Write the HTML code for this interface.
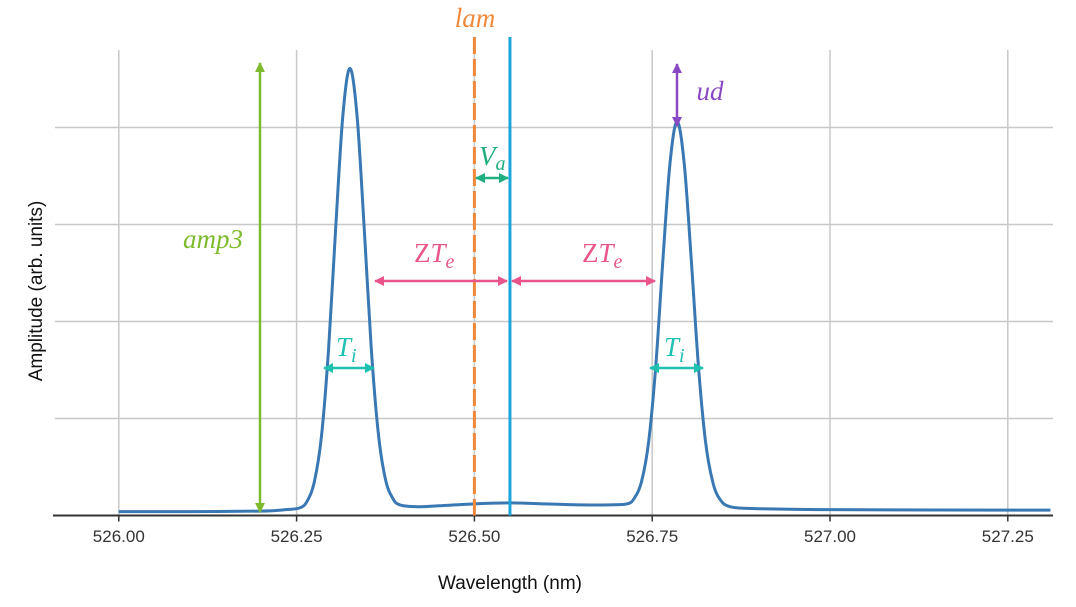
<!DOCTYPE html>
<html><head><meta charset="utf-8"><style>
html,body{margin:0;padding:0;background:#fff;}
svg{display:block;}
.tick{font-family:"Liberation Sans",sans-serif;font-size:17px;fill:#333;}
.ax{font-family:"Liberation Sans",sans-serif;font-size:19px;fill:#111;}
.m{font-family:"Liberation Serif",serif;font-style:italic;font-size:27px;}
</style></head><body>
<svg id="chart" width="1076" height="607" viewBox="0 0 1076 607" xmlns="http://www.w3.org/2000/svg">
<defs>
<marker id="ag" viewBox="0 0 10 10" refX="9" refY="5" markerWidth="4" markerHeight="4" orient="auto-start-reverse"><path d="M0,0L10,5L0,10z" fill="#7dbb2c"/></marker>
<marker id="ap" viewBox="0 0 10 10" refX="9" refY="5" markerWidth="4" markerHeight="4" orient="auto-start-reverse"><path d="M0,0L10,5L0,10z" fill="#8a49c4"/></marker>
<marker id="av" viewBox="0 0 10 10" refX="9" refY="5" markerWidth="4" markerHeight="4" orient="auto-start-reverse"><path d="M0,0L10,5L0,10z" fill="#1fae7f"/></marker>
<marker id="az" viewBox="0 0 10 10" refX="9" refY="5" markerWidth="4" markerHeight="4" orient="auto-start-reverse"><path d="M0,0L10,5L0,10z" fill="#e9548b"/></marker>
<marker id="at" viewBox="0 0 10 10" refX="9" refY="5" markerWidth="4" markerHeight="4" orient="auto-start-reverse"><path d="M0,0L10,5L0,10z" fill="#1ec0b0"/></marker>
</defs>
<g id="grid"></g>
<g id="axes"></g>
<path id="curve" fill="none" stroke="#3a78b3" stroke-width="3" stroke-linejoin="round"/>
<g id="ann"></g>
<text class="ax" x="510" y="589" text-anchor="middle">Wavelength (nm)</text>
<text class="ax" transform="translate(42,291) rotate(-90)" text-anchor="middle">Amplitude (arb. units)</text>
</svg>
<script>
const wavelengths=[526.00,526.10,526.20,526.235,526.255,526.265,526.275,526.285,526.295,526.305,526.315,526.325,526.335,526.345,526.355,526.365,526.375,526.385,526.395,526.42,526.45,526.50,526.55,526.60,526.65,526.69,526.715,526.725,526.735,526.745,526.755,526.765,526.775,526.785,526.795,526.805,526.815,526.825,526.835,526.845,526.86,526.90,527.00,527.31];
const amplitudes=[0.04,0.04,0.045,0.06,0.08,0.15,0.35,0.82,1.72,2.97,4.12,4.61,4.12,2.97,1.72,0.84,0.37,0.18,0.11,0.09,0.10,0.12,0.13,0.12,0.11,0.11,0.12,0.18,0.35,0.76,1.54,2.63,3.63,4.06,3.63,2.63,1.54,0.76,0.35,0.17,0.09,0.07,0.06,0.055];
const xTicks=[526.00,526.25,526.50,526.75,527.00,527.25];
const xTickLabels=["526.00","526.25","526.50","526.75","527.00","527.25"];
const yGrid=[1,2,3,4];
const lamValue=526.50, centerValue=526.55;
const NS="http://www.w3.org/2000/svg";
const X0=118.8,PX=711.2,Y0=515.5,PY=97;
function sx(v){return X0+(v-526)*PX;}
function sy(v){return Y0-v*PY;}
function mk(tag,attrs,parent){const e=document.createElementNS(NS,tag);for(const k in attrs)e.setAttribute(k,attrs[k]);parent.appendChild(e);return e;}
const grid=document.getElementById('grid'),axes=document.getElementById('axes'),ann=document.getElementById('ann');
xTicks.forEach((t,i)=>{
 const g=mk('line',{x1:sx(t),x2:sx(t),y1:50,y2:Y0,stroke:'#c8c8c8','stroke-width':1.5},grid);
 
 
 const tk=mk('line',{x1:sx(t),x2:sx(t),y1:Y0,y2:Y0+6,stroke:'#333','stroke-width':1.5},axes);
 
 
 const lb=mk('text',{x:sx(t),y:542,'text-anchor':'middle',class:'tick'},axes);
 lb.textContent=xTickLabels[i];
 
 
});
yGrid.forEach(v=>{
 const g=mk('line',{x1:55,x2:1053,y1:sy(v),y2:sy(v),stroke:'#c8c8c8','stroke-width':1.5},grid);
 
 
});
const axl=mk('line',{x1:53,x2:1053,y1:Y0,y2:Y0,stroke:'#333','stroke-width':2},axes);


const pts=wavelengths.map((w,i)=>[sx(w),sy(amplitudes[i])]);
let d='M'+pts[0][0]+','+pts[0][1];
for(let i=0;i<pts.length-1;i++){
 const p0=pts[Math.max(i-1,0)],p1=pts[i],p2=pts[i+1],p3=pts[Math.min(i+2,pts.length-1)];
 const c1=[p1[0]+(p2[0]-p0[0])/6,p1[1]+(p2[1]-p0[1])/6],c2=[p2[0]-(p3[0]-p1[0])/6,p2[1]-(p3[1]-p1[1])/6];
 d+=` C${c1[0]},${c1[1]} ${c2[0]},${c2[1]} ${p2[0]},${p2[1]}`;
}
document.getElementById('curve').setAttribute('d',d);
const lam=mk('line',{x1:sx(lamValue),x2:sx(lamValue),y1:37,y2:Y0,stroke:'#f0883a','stroke-width':3,'stroke-dasharray':'17 5'},ann);


const cen=mk('line',{x1:sx(centerValue),x2:sx(centerValue),y1:37,y2:Y0,stroke:'#1ba5dc','stroke-width':3},ann);


function arrow(x1,y1,x2,y2,col,m,name){
 const a=mk('line',{x1,y1,x2,y2,stroke:col,'stroke-width':2.5,'marker-start':`url(#${m})`,'marker-end':`url(#${m})`},ann);
 
 
}
arrow(260,63,260,512,'#7dbb2c','ag','amp3-arrow');
arrow(677,64,677,126,'#8a49c4','ap','ud-arrow');
arrow(476,178,508,178,'#1fae7f','av','va-arrow');
arrow(375,281,507,281,'#e9548b','az','zte-arrow-left');
arrow(512,281,655,281,'#e9548b','az','zte-arrow-right');
arrow(324,368,374,368,'#1ec0b0','at','ti-arrow-left');
arrow(650,368,703,368,'#1ec0b0','at','ti-arrow-right');
</script>
<svg width="1076" height="607" style="position:absolute;left:0;top:0;pointer-events:none">
<text class="m" x="475" y="27" text-anchor="middle" fill="#f0883a">lam</text>
<text class="m" x="213" y="248" text-anchor="middle" fill="#7dbb2c">amp3</text>
<text class="m" x="710" y="100" text-anchor="middle" fill="#8a49c4">ud</text>
<text class="m" x="479" y="165" fill="#1fae7f">V<tspan font-size="20" dy="5">a</tspan></text>
<text class="m" x="414" y="262" fill="#e9548b"><tspan font-style="normal">Z</tspan>T<tspan font-size="20" dy="6">e</tspan></text>
<text class="m" x="582" y="262" fill="#e9548b"><tspan font-style="normal">Z</tspan>T<tspan font-size="20" dy="6">e</tspan></text>
<text class="m" x="336" y="356" fill="#1ec0b0">T<tspan font-size="20" dy="6">i</tspan></text>
<text class="m" x="664" y="356" fill="#1ec0b0">T<tspan font-size="20" dy="6">i</tspan></text>
</svg>
</body></html>
